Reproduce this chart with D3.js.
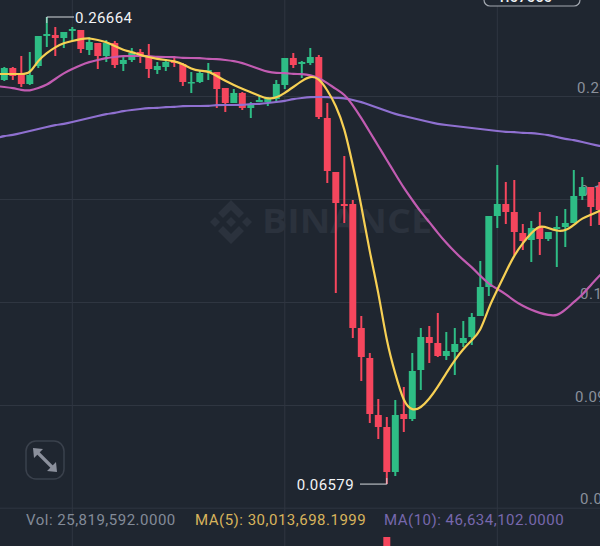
<!DOCTYPE html>
<html>
<head>
<meta charset="utf-8">
<script src="https://cdn.jsdelivr.net/npm/d3@7"></script>
<style>
  html, body { margin: 0; padding: 0; background: #1f2630; overflow: hidden; }
  svg { display: block; font-family: Roboto, sans-serif; }
</style>
</head>
<body>
<div id="chart"></div>
<script>
// candles, first and last ones sit just outside the window
var opens = [0.24127,0.23955,0.24471,0.24213,0.23783,0.24557,0.25847,0.25890,0.25761,0.26062,0.26105,0.25245,0.25546,0.24987,0.25546,0.24643,0.24815,0.25159,0.24987,0.24385,0.24514,0.24772,0.24643,0.23826,0.23869,0.24299,0.24299,0.23611,0.22966,0.23396,0.22751,0.23009,0.23009,0.23138,0.23740,0.24901,0.24643,0.24686,0.24944,0.22321,0.19999,0.18623,0.18623,0.13291,0.12001,0.09550,0.09034,0.07099,0.09593,0.09378,0.11485,0.12904,0.12646,0.12087,0.12259,0.12646,0.12904,0.13807,0.15054,0.18107,0.18623,0.18279,0.17376,0.17075,0.17634,0.17118,0.17548,0.17634,0.17806,0.18967,0.19354,0.19354,0.18365];
var closes = [0.24000,0.24471,0.24127,0.23783,0.24170,0.25847,0.25933,0.25761,0.26019,0.26148,0.25288,0.25589,0.24987,0.25546,0.24600,0.24815,0.25116,0.24944,0.24428,0.24557,0.24729,0.24686,0.23869,0.23869,0.24256,0.24385,0.23568,0.22966,0.23396,0.22751,0.22923,0.23095,0.23181,0.23783,0.24901,0.24600,0.24729,0.24944,0.22364,0.20042,0.18666,0.18537,0.13291,0.12044,0.09593,0.09034,0.07099,0.09550,0.09378,0.11442,0.12904,0.12646,0.12087,0.12302,0.12603,0.12861,0.13764,0.15054,0.18107,0.18623,0.18279,0.17419,0.17032,0.17591,0.17118,0.17419,0.17634,0.17806,0.18967,0.19354,0.18494,0.18365,0.18200];
var highs = [0.24300,0.24514,0.24514,0.24987,0.25159,0.25847,0.26664,0.26234,0.26019,0.26234,0.26105,0.25804,0.25546,0.25675,0.25632,0.24944,0.25331,0.25288,0.25503,0.24729,0.24858,0.24901,0.24686,0.24299,0.24385,0.24686,0.24299,0.23611,0.23568,0.23439,0.23009,0.23267,0.23224,0.23955,0.24901,0.25116,0.24772,0.25331,0.25030,0.22966,0.19999,0.20687,0.18795,0.13807,0.12216,0.10238,0.09464,0.10195,0.10754,0.12216,0.13291,0.13377,0.13936,0.13119,0.13291,0.13592,0.13936,0.16172,0.18107,0.20300,0.19569,0.19655,0.17763,0.17892,0.18279,0.17419,0.18107,0.18408,0.20085,0.19784,0.19354,0.19569,0.18500];
var lows = [0.23900,0.23912,0.23955,0.23654,0.23740,0.24471,0.25374,0.24987,0.25331,0.25632,0.25116,0.25030,0.24428,0.24729,0.24471,0.24342,0.24729,0.24686,0.24041,0.24213,0.24342,0.24514,0.23697,0.23396,0.23826,0.23955,0.22751,0.22579,0.22966,0.22665,0.22321,0.23009,0.22837,0.22966,0.23568,0.24471,0.24041,0.24600,0.22278,0.19526,0.14796,0.17806,0.12861,0.11012,0.09206,0.08518,0.06579,0.06927,0.08819,0.09292,0.10625,0.11786,0.12044,0.11915,0.11270,0.12474,0.12560,0.13807,0.14667,0.17591,0.17763,0.16430,0.16645,0.16129,0.16430,0.17032,0.15914,0.16774,0.17806,0.18795,0.17677,0.17720,0.18000];

// moving averages, one value per candle
var maShort = [0.24213,0.24213,0.24213,0.24213,0.24213,0.24815,0.25116,0.25374,0.25546,0.25632,0.25718,0.25761,0.25675,0.25589,0.25417,0.25245,0.25159,0.25030,0.24944,0.24858,0.24815,0.24772,0.24643,0.24428,0.24342,0.24342,0.24127,0.23912,0.23740,0.23568,0.23439,0.23267,0.23138,0.23181,0.23396,0.23654,0.23912,0.24127,0.24041,0.23525,0.22880,0.21934,0.20300,0.18580,0.16516,0.14882,0.12646,0.11313,0.10066,0.09722,0.09851,0.10238,0.10754,0.11356,0.11915,0.12388,0.12775,0.13119,0.14194,0.14925,0.15699,0.16430,0.16946,0.17376,0.17720,0.17591,0.17462,0.17462,0.17720,0.18021,0.18150,0.18322,0.18494];
var maMid = [0.23697,0.23654,0.23611,0.23525,0.23482,0.23611,0.23740,0.23998,0.24256,0.24428,0.24600,0.24729,0.24815,0.24901,0.24944,0.24987,0.24987,0.24987,0.24987,0.24944,0.24944,0.24944,0.24901,0.24901,0.24901,0.24858,0.24858,0.24815,0.24772,0.24686,0.24557,0.24428,0.24299,0.24256,0.24256,0.24213,0.24213,0.24170,0.24041,0.23826,0.23568,0.23353,0.22880,0.22321,0.21719,0.21117,0.20515,0.19913,0.19311,0.18795,0.18279,0.17849,0.17376,0.16946,0.16559,0.16215,0.15914,0.15527,0.15183,0.14968,0.14753,0.14452,0.14237,0.14065,0.13936,0.13850,0.13807,0.14065,0.14409,0.14710,0.15140,0.15527,0.15914];
var maLong = [0.21461,0.21547,0.21590,0.21676,0.21762,0.21848,0.21934,0.22020,0.22063,0.22149,0.22235,0.22321,0.22407,0.22493,0.22536,0.22622,0.22665,0.22708,0.22751,0.22751,0.22794,0.22794,0.22837,0.22837,0.22837,0.22837,0.22880,0.22880,0.22880,0.22880,0.22923,0.22923,0.22966,0.23009,0.23052,0.23138,0.23181,0.23224,0.23224,0.23224,0.23181,0.23181,0.23095,0.23009,0.22880,0.22751,0.22622,0.22493,0.22407,0.22321,0.22235,0.22149,0.22063,0.22020,0.21977,0.21934,0.21891,0.21848,0.21805,0.21762,0.21719,0.21719,0.21676,0.21676,0.21633,0.21590,0.21504,0.21418,0.21375,0.21289,0.21203,0.21117,0.21074];

// axis
var tickPrices = [0.23267,0.18838,0.14409,0.09980,0.05564];
var tickLabels = ["0.23267","0.18838","0.14409","0.09980","0.05564"];
var gridCandles = [9,34,59];

// the one volume bar that shows at the bottom edge
var volumeCandles = [46];
var volumeValues = [1000000000];

var footerLabels = ["Vol: 25,819,592.0000","MA(5): 30,013,698.1999","MA(10): 46,634,102.0000"];
var highLabel = "0.26664", lowLabel = "0.06579", highCandle = 6, lowCandle = 46;
var pillLabel = "1.07060";

var width = 600, height = 546;
var upColor = "#2ebd85", downColor = "#f6465d", gridColor = "#2f3641";

var svg = d3.select("#chart")
  .append("svg")
    .attr("width", width)
    .attr("height", height);

// scales
var x = d3.scaleBand()
  .domain(d3.range(opens.length))
  .range([-8.45, 612.05])
  .paddingInner(0.18)
  .paddingOuter(0.09);
var xMid = function(i) { return x(i) + x.bandwidth() / 2; };

var y = d3.scaleLinear()
  .domain([0.03917, 0.27395])
  .range([height, 0]);

var volY = d3.scaleLinear()
  .domain([0, 1000000000])
  .range([610, 537]);

// grid + price labels, they run off the right edge like the app does
var tickStart = [-23, -20, -20, -25, -20];
var yAxis = svg.append("g")
  .attr("transform", "translate(" + width + ",0)")
  .call(d3.axisRight(y)
    .tickValues(tickPrices)
    .tickSize(-width)
    .tickFormat(function(d, i) { return tickLabels[i]; }));
yAxis.select(".domain").remove();
yAxis.selectAll("line").attr("stroke", gridColor).attr("stroke-width", 1);
yAxis.selectAll("text")
  .attr("x", function(d, i) { return tickStart[i]; })
  .attr("dy", -4)
  .attr("text-anchor", "start")
  .attr("font-family", "Roboto, sans-serif")
  .attr("font-size", 15)
  .attr("letter-spacing", 0.5)
  .attr("fill", "#8a909b");

var xAxis = svg.append("g")
  .attr("transform", "translate(0," + height + ")")
  .call(d3.axisBottom(x)
    .tickValues(gridCandles)
    .tickSize(-height)
    .tickFormat(""));
xAxis.select(".domain").remove();
xAxis.selectAll("line").attr("stroke", gridColor).attr("stroke-width", 1);

// watermark
var mark = svg.append("g")
  .attr("transform", "translate(231,222)")
  .attr("fill", "#2b323d");
mark.append("path").attr("d", "M0,-22L13,-9L8,-4L0,-12L-8,-4L-13,-9Z");
mark.append("path").attr("d", "M0,22L13,9L8,4L0,12L-8,4L-13,9Z");
mark.append("path").attr("d", "M0,-5L5,0L0,5L-5,0Z");
mark.append("path").attr("d", "M-16,-5L-11,0L-16,5L-21,0Z");
mark.append("path").attr("d", "M16,-5L21,0L16,5L11,0Z");
svg.append("text")
  .attr("x", 262)
  .attr("y", 233)
  .attr("font-family", "'Open Sans', sans-serif")
  .attr("font-weight", 700)
  .attr("font-size", 34)
  .attr("textLength", 170)
  .attr("lengthAdjust", "spacingAndGlyphs")
  .attr("fill", "#2b323d")
  .text("BINANCE");

// wicks
svg.selectAll(".wick")
  .data(d3.range(opens.length))
  .enter()
  .append("line")
    .attr("class", "wick")
    .attr("x1", function(i) { return xMid(i); })
    .attr("x2", function(i) { return xMid(i); })
    .attr("y1", function(i) { return y(highs[i]); })
    .attr("y2", function(i) { return y(lows[i]); })
    .attr("stroke-width", 2)
    .attr("stroke", function(i) { return closes[i] >= opens[i] ? upColor : downColor; });

// bodies
svg.selectAll(".body")
  .data(d3.range(opens.length))
  .enter()
  .append("rect")
    .attr("class", "body")
    .attr("x", function(i) { return x(i); })
    .attr("y", function(i) { return y(Math.max(opens[i], closes[i])); })
    .attr("width", x.bandwidth())
    .attr("height", function(i) { return Math.max(Math.abs(y(opens[i]) - y(closes[i])), 1.5); })
    .attr("fill", function(i) { return closes[i] >= opens[i] ? upColor : downColor; });

// volume bar
svg.selectAll(".vol")
  .data(volumeCandles)
  .enter()
  .append("rect")
    .attr("class", "vol")
    .attr("x", function(d) { return x(d); })
    .attr("y", function(d, i) { return volY(volumeValues[i]); })
    .attr("width", x.bandwidth())
    .attr("height", function(d, i) { return volY(0) - volY(volumeValues[i]); })
    .attr("fill", downColor);

// moving average lines
var maLine = d3.line()
  .x(function(d, i) { return xMid(i); })
  .y(function(d) { return y(d); })
  .curve(d3.curveBasis);

[[maLong, "#8f70d0"], [maMid, "#c25cb2"], [maShort, "#f7d054"]].forEach(function(m) {
  svg.append("path")
    .attr("d", maLine(m[0]))
    .attr("fill", "none")
    .attr("stroke", m[1])
    .attr("stroke-width", 2.2)
    .attr("stroke-linejoin", "round");
});

// high / low callouts
svg.append("polyline")
  .attr("points", [[xMid(highCandle), y(highs[highCandle]) + 6], [xMid(highCandle), y(highs[highCandle])], [74, y(highs[highCandle])]].join(" "))
  .attr("fill", "none")
  .attr("stroke", "#d5d8dc")
  .attr("stroke-width", 1);
svg.append("text")
  .attr("x", 75)
  .attr("y", y(highs[highCandle]) + 5.5)
  .attr("font-size", 15)
  .attr("letter-spacing", 0.4)
  .attr("fill", "#f2f3f5")
  .text(highLabel);

svg.append("polyline")
  .attr("points", [[xMid(lowCandle), y(lows[lowCandle]) - 6], [xMid(lowCandle), y(lows[lowCandle])], [360, y(lows[lowCandle])]].join(" "))
  .attr("fill", "none")
  .attr("stroke", "#d5d8dc")
  .attr("stroke-width", 1);
svg.append("text")
  .attr("x", 354)
  .attr("y", y(lows[lowCandle]) + 6)
  .attr("text-anchor", "end")
  .attr("font-size", 15)
  .attr("letter-spacing", 0.4)
  .attr("fill", "#f2f3f5")
  .text(lowLabel);

// footer
var footerX = [26, 195, 384], footerFill = ["#838b98", "#d8b45c", "#7768ad"];
footerLabels.forEach(function(t, i) {
  svg.append("text")
    .attr("x", footerX[i])
    .attr("y", 524.5)
    .attr("font-size", 15)
    .attr("letter-spacing", 0.5)
    .attr("fill", footerFill[i])
    .text(t);
});

// price pill cut by the top edge
svg.append("rect")
  .attr("x", 484)
  .attr("y", -18)
  .attr("width", 96)
  .attr("height", 24)
  .attr("rx", 6)
  .attr("fill", "#1f2630")
  .attr("stroke", "#a3a8b0")
  .attr("stroke-width", 1.2);
svg.append("text")
  .attr("x", 497)
  .attr("y", 2)
  .attr("font-size", 15)
  .attr("font-weight", 500)
  .attr("fill", "#f2f3f5")
  .text(pillLabel);

// expand button
var btn = svg.append("g").attr("transform", "translate(45,460)");
btn.append("rect")
  .attr("x", -19)
  .attr("y", -19)
  .attr("width", 38)
  .attr("height", 38)
  .attr("rx", 10)
  .attr("fill", "none")
  .attr("stroke", "#3a414c")
  .attr("stroke-width", 1.5);
btn.append("path")
  .attr("d", "M-12,-12L-2,-11L-11,-2Z M12,12L2,11L11,2Z")
  .attr("fill", "#8b909c");
btn.append("line")
  .attr("x1", -8)
  .attr("y1", -8)
  .attr("x2", 8)
  .attr("y2", 8)
  .attr("stroke", "#8b909c")
  .attr("stroke-width", 3.2);
</script>
</body>
</html>
